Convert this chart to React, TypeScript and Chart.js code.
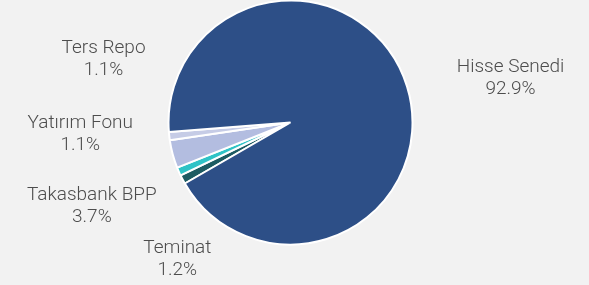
import React, { useEffect, useRef } from 'react';
import { Chart, registerables } from 'chart.js';

Chart.register(...registerables);

// Data (clockwise order, starting after the lower edge of "Hisse Senedi")
const categories = ['Teminat', 'Yatırım Fonu', 'Takasbank BPP', 'Ters Repo', 'Hisse Senedi'];
const values = [1.2, 1.1, 3.7, 1.1, 92.9];
const colors = ['#1d5b62', '#2fc3c6', '#b3bde0', '#c6cce6', '#2d4f87'];
// vertical order (top to bottom) of the labels stacked on the left side
const leftLabelOrder = ['Ters Repo', 'Yatırım Fonu', 'Takasbank BPP', 'Teminat'];

const fmt = (v: number) => v.toFixed(1) + '%';

const outerLabels = {
  id: 'outerLabels',
  afterDatasetsDraw(chart: any) {
    const meta = chart.getDatasetMeta(0);
    const arcs = meta.data as any[];
    if (!arcs.length) return;
    const cx = arcs[0].x;
    const cy = arcs[0].y;
    const R = arcs[0].outerRadius;
    const ctx = chart.ctx as CanvasRenderingContext2D;
    const TAU = Math.PI * 2;
    const norm = (a: number) => ((a % TAU) + TAU) % TAU;
    ctx.save();
    ctx.font = '300 19px Roboto';
    ctx.fillStyle = '#4d4d4d';
    ctx.textBaseline = 'middle';
    ctx.textAlign = 'center';
    const lh = 22;
    const items = arcs.map((a: any, i: number) => {
      const s = norm(a.startAngle);
      const e = s + (a.endAngle - a.startAngle);
      return { i, s, e, mid: (s + e) / 2 };
    });
    const drawBlock = (i: number, ax: number, ay: number, side: number) => {
      const lines = [categories[i], fmt(values[i])];
      const w = Math.max(...lines.map((l) => ctx.measureText(l).width));
      const bx = side < 0 ? ax - w / 2 : ax + w / 2;
      lines.forEach((l, k) => ctx.fillText(l, bx, ay + (k - (lines.length - 1) / 2) * lh));
    };
    const left = items.filter((it) => Math.cos(it.mid) < 0);
    const right = items.filter((it) => Math.cos(it.mid) >= 0);
    if (left.length) {
      const gMid = left.reduce((s, it) => s + it.mid, 0) / left.length;
      const step = (27.8 * Math.PI) / 180;
      const ordered = [...left].sort(
        (a, b) => leftLabelOrder.indexOf(categories[a.i]) - leftLabelOrder.indexOf(categories[b.i])
      );
      const n = ordered.length;
      const Ra = R + 36;
      ordered.forEach((it, k) => {
        const ang = gMid + ((n - 1) / 2 - k) * step;
        drawBlock(it.i, cx + Ra * Math.cos(ang), cy + Ra * Math.sin(ang), -1);
      });
    }
    const rx = R + 52;
    const ry = R + 28;
    right.forEach((it) => {
      drawBlock(it.i, cx + rx * Math.cos(it.mid), cy + ry * Math.sin(it.mid), 1);
    });
    ctx.restore();
  },
};

export default function App() {
  const ref = useRef<HTMLCanvasElement>(null);
  useEffect(() => {
    document.body.style.margin = '0';
    const canvas = ref.current;
    if (!canvas) return;
    const chart = new Chart(canvas, {
      type: 'pie',
      data: {
        labels: categories,
        datasets: [
          {
            data: values,
            backgroundColor: colors,
            borderColor: '#ffffff',
            borderWidth: 2,
            radius: 122,
          } as any,
        ],
      },
      options: {
        responsive: false,
        animation: false,
        rotation: 240,
        layout: { padding: { left: 0, right: 8, top: 0, bottom: 40 } },
        plugins: {
          legend: { display: false },
          tooltip: { enabled: false },
        },
      },
      plugins: [outerLabels],
    });
    return () => chart.destroy();
  }, []);
  return (
    <div style={{ width: 589, height: 285, background: '#f2f2f2' }}>
      <canvas ref={ref} width={589} height={285} style={{ display: 'block' }} />
    </div>
  );
}
